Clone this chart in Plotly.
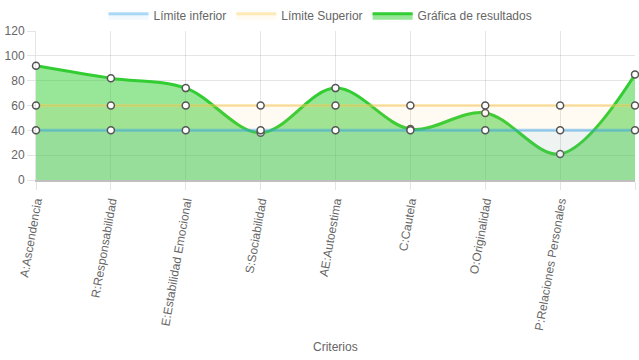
import plotly.graph_objects as go

categorias = ["A:Ascendencia", "R:Responsabilidad", "E:Estabilidad Emocional", "S:Sociabilidad",
              "AE:Autoestima", "C:Cautela", "O:Originalidad", "P:Relaciones Personales", "V:Vigor"]
limite_inferior = [40, 40, 40, 40, 40, 40, 40, 40, 40]
limite_superior = [60, 60, 60, 60, 60, 60, 60, 60, 60]
resultados = [92, 82, 74, 38, 74, 41, 54, 21, 85]
y_ticks = [0, 20, 40, 60, 80, 100, 120]

xs = list(range(len(categorias)))
marker = dict(size=7, color="white", line=dict(color="#555555", width=1.5))

series = [
    ("Gráfica de resultados", resultados, "rgb(50,205,50)", "rgba(50,205,50,0.5)", "spline"),
    ("Límite Superior", limite_superior, "rgba(255,205,86,0.45)", "rgba(255,205,86,0.07)", "linear"),
    ("Límite inferior", limite_inferior, "rgba(54,162,235,0.45)", "rgba(54,162,235,0.08)", "linear"),
]

fig = go.Figure()
for name, vals, lc, fc, shape in series:
    fig.add_trace(go.Scatter(
        x=xs, y=vals, name=name, mode="lines+markers", showlegend=False,
        line=dict(color=lc, width=3, shape=shape, smoothing=1.0),
        fill="tozeroy", fillcolor=fc, marker=marker, cliponaxis=False))

legend_styles = [
    ("Límite inferior", "rgba(54,162,235,0.4)", "rgba(54,162,235,0.07)"),
    ("Límite Superior", "rgba(255,205,86,0.4)", "rgba(255,205,86,0.07)"),
    ("Gráfica de resultados", "rgb(50,205,50)", "rgba(50,205,50,0.5)"),
]
for name, lc, fc in legend_styles:
    fig.add_trace(go.Scatter(
        x=[None], y=[None], name=name, mode="lines", fill="toself",
        fillcolor=fc, line=dict(color=lc, width=3), showlegend=True))

fig.update_layout(
    width=639, height=360,
    margin=dict(l=36, r=4, t=31, b=180, autoexpand=False),
    paper_bgcolor="white", plot_bgcolor="white",
    font=dict(family="Liberation Sans, Arial, sans-serif", size=12, color="#666666"),
    showlegend=True,
    legend=dict(orientation="h", x=0.475, xanchor="center", y=1.2, yanchor="top",
                itemwidth=40, font=dict(size=12, color="#666666"),
                traceorder="normal"),
    xaxis=dict(
        tickmode="array", tickvals=xs, ticktext=categorias, range=[0, len(categorias) - 1],
        tickangle=-80, showgrid=True, gridcolor="rgba(0,0,0,0.1)", gridwidth=1,
        ticks="outside", ticklen=8, tickcolor="rgba(0,0,0,0.1)", automargin=False,
        showline=True, linecolor="rgba(0,0,0,0.25)", linewidth=1.5, zeroline=False,
    ),
    yaxis=dict(
        range=[0, 120], tickvals=y_ticks, showgrid=True, gridcolor="rgba(0,0,0,0.1)",
        ticks="outside", ticklen=8, tickcolor="rgba(0,0,0,0.1)", zeroline=False,
        showline=True, linecolor="rgba(0,0,0,0.1)", automargin=False,
        tickfont=dict(size=12, color="#666666"),
    ),
    annotations=[dict(text="Criterios", xref="paper", yref="paper", x=0.5, y=-1.121,
                      xanchor="center", yanchor="middle", showarrow=False,
                      font=dict(size=12, color="#666666"))],
)
fig.write_html("out.html", config={"displayModeBar": False},
               post_script="document.body.style.margin='0';")
